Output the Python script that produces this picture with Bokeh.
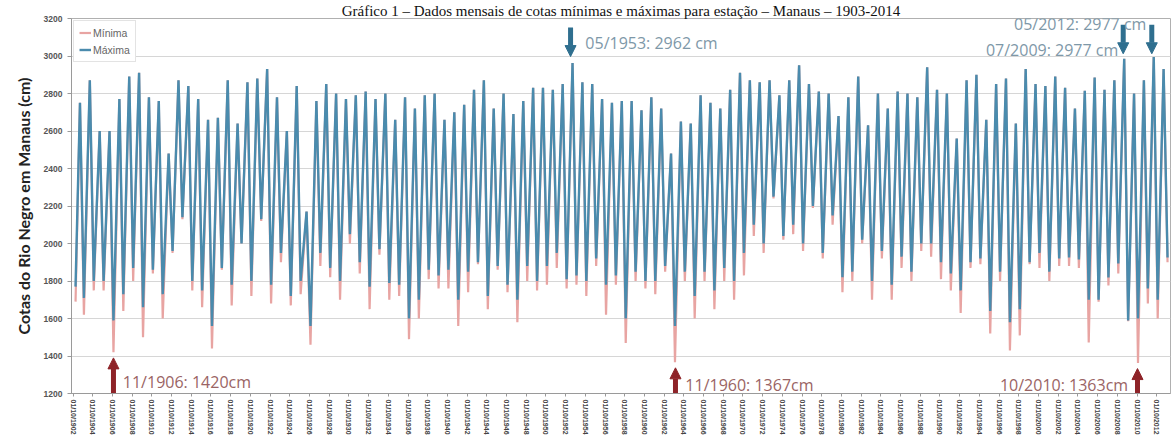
from bokeh.plotting import figure
from bokeh.models import (ColumnDataSource, FixedTicker, Arrow, NormalHead, Label,
                          Legend, LegendItem, Range1d)
from bokeh.embed import file_html
from bokeh.resources import INLINE

# ---------------- data (cm) ----------------
years = list(range(1903, 2014))

annual_peak = [
    2750, 2870, 2600, 2600, 2770, 2890, 2910, 2780, 2760, 2480,
    2870, 2840, 2770, 2660, 2670, 2870, 2640, 2860, 2880, 2930,
    2780, 2600, 2840, 2170, 2760, 2850, 2800, 2770, 2790, 2810,
    2770, 2800, 2660, 2780, 2720, 2790, 2800, 2660, 2700, 2740,
    2820, 2870, 2720, 2800, 2690, 2760, 2830, 2830, 2820, 2850,
    2962, 2860, 2850, 2770, 2750, 2760, 2760, 2710, 2780, 2720,
    2480, 2650, 2640, 2790, 2750, 2720, 2820, 2910, 2870, 2860,
    2870, 2790, 2870, 2950, 2850, 2810, 2800, 2680, 2780, 2890,
    2630, 2800, 2720, 2810, 2800, 2780, 2940, 2820, 2800, 2560,
    2870, 2900, 2660, 2850, 2880, 2640, 2930, 2850, 2840, 2890,
    2830, 2720, 2815, 2885, 2820, 2870, 2985, 2800, 2870, 2995, 2930,
]

# low-water values of the "Máxima" series (blue)
max_trough = [
    1710, 1800, 1800, 1590, 1730, 1870, 1660, 1860, 1730, 1960,
    2140, 1800, 1750, 1560, 1870, 1780, 2000, 1800, 2130, 1780,
    1950, 1720, 1800, 1560, 1950, 1870, 1800, 2050, 1900, 1770,
    1970, 1790, 1780, 1600, 1700, 1860, 1830, 1860, 1700, 1850,
    1900, 1720, 1880, 1780, 1700, 1880, 1800, 1880, 1950, 1810,
    1830, 1800, 1920, 1780, 1830, 1600, 1850, 1800, 1800, 1880,
    1560, 1850, 1720, 1850, 1750, 1870, 1800, 1950, 2100, 2000,
    2250, 2040, 2100, 2000, 2200, 1950, 2150, 1820, 1850, 2020,
    1800, 1960, 1780, 1930, 1850, 2000, 2000, 1900, 1840, 1750,
    1900, 1920, 1640, 1850, 1580, 1650, 1900, 1950, 1850, 1920,
    1925, 1915, 1700, 1700, 1819, 1893, 1589, 1600, 1760, 1700, 1925,
]

# low-water values of the "Mínima" series (pink)
min_trough = [
    1620, 1750, 1750, 1420, 1640, 1800, 1500, 1840, 1600, 1950,
    2130, 1750, 1660, 1440, 1860, 1670, 2000, 1720, 2120, 1680,
    1900, 1670, 1730, 1460, 1880, 1820, 1700, 2000, 1840, 1650,
    1940, 1700, 1720, 1490, 1600, 1810, 1760, 1760, 1560, 1740,
    1890, 1650, 1860, 1740, 1580, 1800, 1750, 1780, 1870, 1760,
    1780, 1720, 1880, 1620, 1780, 1470, 1800, 1760, 1730, 1850,
    1367, 1800, 1600, 1800, 1650, 1800, 1700, 1830, 2040, 1950,
    2240, 2020, 2050, 1960, 2190, 1920, 2100, 1740, 1800, 2000,
    1700, 1920, 1700, 1870, 1800, 1960, 1930, 1810, 1750, 1630,
    1870, 1890, 1520, 1800, 1430, 1510, 1890, 1870, 1800, 1880,
    1880, 1870, 1472, 1690, 1776, 1840, 1585, 1363, 1680, 1600, 1900,
]

start_max = 1770   # Jan 1903
start_min = 1690

tick_years = list(range(1902, 2013, 2))
tick_labels = ["01/10/%d" % y for y in tick_years]

# (label, position in years, value, direction)
events = [
    ("05/1953: 2962 cm", 1953.25, 2962, "down"),
    ("07/2009: 2977 cm", 2009.35, 2977, "down"),
    ("05/2012: 2977 cm", 2012.25, 2977, "down"),
    ("11/1906: 1420cm", 1906.85, 1420, "up"),
    ("11/1960: 1367cm", 1963.9, 1367, "up"),
    ("10/2010: 1363cm", 2010.8, 1363, "up"),
]

# ---------------- build series ----------------
t_max, v_max, t_min, v_min = [1903.0], [start_max], [1903.0], [start_min]
for y, pk, tb, tp in zip(years, annual_peak, max_trough, min_trough):
    t_max += [y + 0.45, y + 0.85]
    v_max += [pk, tb]
    t_min += [y + 0.45, y + 0.85]
    v_min += [pk, tp]

src_max = ColumnDataSource(dict(t=t_max, v=v_max))
src_min = ColumnDataSource(dict(t=t_min, v=v_min))

BLUE = "#4A8BAD"
PINK = "#E8A4A2"

p = figure(width=1171, height=446, output_backend="svg", toolbar_location=None,
           x_range=Range1d(1902.59, 2014.15), y_range=Range1d(1200, 3200),
           min_border_left=71, min_border_right=1, min_border_top=18,
           min_border_bottom=53)

p.title.text = "Gráfico 1 – Dados mensais de cotas mínimas e máximas para estação – Manaus – 1903-2014"
p.title.align = "center"
p.title.text_font = "Liberation Serif"
p.title.text_font_size = "15px"
p.title.text_font_style = "normal"
p.title.text_color = "#111111"
p.title.standoff = 0
p.title.offset = -20

r_min = p.line("t", "v", source=src_min, line_color=PINK, line_width=2.2)
r_max = p.line("t", "v", source=src_max, line_color=BLUE, line_width=2.4)

# axes
p.xaxis.ticker = FixedTicker(ticks=[y + 0.75 for y in tick_years])
p.xaxis.major_label_overrides = {y + 0.75: lab for y, lab in zip(tick_years, tick_labels)}
p.xaxis.major_label_orientation = "vertical"
p.xaxis.major_label_text_font = "Liberation Sans"
p.xaxis.major_label_text_font_size = "7px"
p.xaxis.major_label_text_font_style = "bold"
p.xaxis.major_label_text_color = "#444444"
p.xaxis.major_label_standoff = 3
p.xaxis.major_tick_out = 3
p.xaxis.major_tick_in = 0
p.xaxis.minor_tick_line_color = None
p.xaxis.axis_line_color = "#9a9a9a"
p.xaxis.major_tick_line_color = "#9a9a9a"

p.yaxis.ticker = FixedTicker(ticks=list(range(1200, 3201, 200)))
p.yaxis.major_label_text_font = "Liberation Sans"
p.yaxis.major_label_text_font_size = "8.5px"
p.yaxis.major_label_text_font_style = "bold"
p.yaxis.major_label_text_color = "#555555"
p.yaxis.major_tick_out = 4
p.yaxis.major_tick_in = 0
p.yaxis.minor_tick_line_color = None
p.yaxis.axis_line_color = "#9a9a9a"
p.yaxis.major_tick_line_color = "#9a9a9a"
p.yaxis.axis_label = "Cotas do Rio Negro em Manaus (cm)"
p.yaxis.axis_label_text_font = "Lato"
p.yaxis.axis_label_text_font_size = "16px"
p.yaxis.axis_label_text_font_style = "bold"
p.yaxis.axis_label_text_color = "#222222"
p.yaxis.axis_label_standoff = 8

p.xgrid.grid_line_color = None
p.ygrid.grid_line_color = "#d6d6d6"
p.outline_line_color = "#b0b0b0"

# legend
legend = Legend(items=[LegendItem(label="Mínima", renderers=[r_min]),
                       LegendItem(label="Máxima", renderers=[r_max])],
                location="top_left", margin=2, padding=5, spacing=4,
                glyph_width=12, glyph_height=13,
                label_text_font="Liberation Sans", label_text_font_size="10.5px",
                label_text_color="#666666", border_line_color="#c8c8c8",
                background_fill_alpha=1.0, label_standoff=2)
p.add_layout(legend)

# annotations
for lab, t, v, d in events:
    if d == "down":
        col = "#2F6F8F"
        p.add_layout(Arrow(x_start=t, y_start=v + 190, x_end=t, y_end=v + 35,
                           line_color=col, line_width=5,
                           end=NormalHead(size=11, fill_color=col, line_color=col)))
    else:
        col = "#8E2328"
        p.add_layout(Arrow(x_start=t, y_start=1203, x_end=t, y_end=v - 30,
                           line_color=col, line_width=5,
                           end=NormalHead(size=11, fill_color=col, line_color=col)))

lab_pos = [
    (1954.75, 3072, "left"),
    (2008.85, 3030, "right"),
    (2011.7, 3173, "right"),
    (1907.8, 1264, "left"),
    (1964.9, 1243, "left"),
    (2009.85, 1243, "right"),
]
for (lab, t, v, d), (lx, ly, al) in zip(events, lab_pos):
    tcol = "#7E98A8" if d == "down" else "#9A6464"
    p.add_layout(Label(x=lx, y=ly, text=lab, text_align=al, text_baseline="middle",
                       text_font="Open Sans", text_font_size="16px", text_color=tcol))

open("out.html", "w").write(file_html(p, INLINE))
